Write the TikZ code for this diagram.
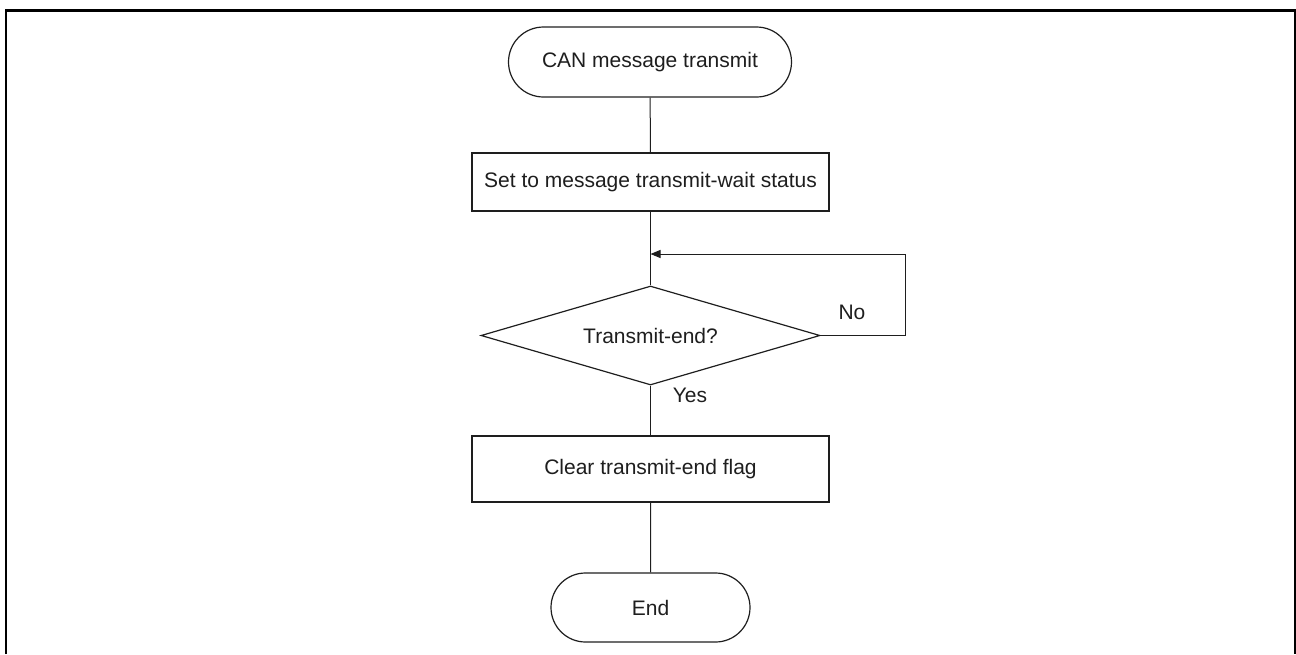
\documentclass[tikz,border=0pt]{standalone}
\usepackage{fontspec}
\setmainfont{Liberation Sans}
\usetikzlibrary{shapes.misc,shapes.geometric,arrows.meta}
\definecolor{ink}{HTML}{1E1E1E}
\begin{document}
\begin{tikzpicture}[x=1pt,y=-1pt,
  every node/.style={font=\fontsize{21}{25}\selectfont, text=ink},
  terminal/.style={rounded rectangle, draw=ink, line width=1.2pt, inner sep=0pt},
  procbox/.style={rectangle, draw=ink, line width=1.2pt, inner sep=0pt, minimum width=357pt},
  decision/.style={diamond, aspect=3.4, draw=ink, line width=1.2pt, inner sep=0pt},
  flow/.style={draw=ink, line width=1pt},
  lbl/.style={inner sep=0pt}]
  \useasboundingbox (0,0) rectangle (1296,654);
  % outer frame, open at the bottom
  \draw[line width=2.2pt, black] (6,654) -- (6,10.5) -- (1295,10.5) -- (1295,654);

  \node[terminal, minimum width=283pt, minimum height=70pt] (start) at (650,62) {CAN message transmit};
  \node[procbox, minimum height=58pt] (setwait) at (650.5,182) {Set to message transmit-wait status};
  \node[decision, minimum width=339pt, minimum height=99pt] (dec) at (650.5,335.5) {Transmit-end?};
  \node[procbox, minimum height=66pt] (clr) at (650.5,469) {Clear transmit-end flag};
  \node[terminal, minimum width=199pt, minimum height=69pt] (fin) at (650.5,607.5) {End};

  \coordinate (join) at (650.5,254);
  \coordinate (loopr) at (905,254);

  \draw[flow] (start) -- (setwait);
  \draw[flow] (setwait) -- (dec);
  \draw[flow, -{Triangle[length=10pt,width=8pt]}] (dec.east) -| (loopr) -- (join);
  \draw[flow] (dec) -- (clr);
  \draw[flow] (clr) -- (fin);

  \node[lbl] (no) at (852,312) {No};
  \node[lbl] (yes) at (690,395) {Yes};
\end{tikzpicture}
\end{document}
